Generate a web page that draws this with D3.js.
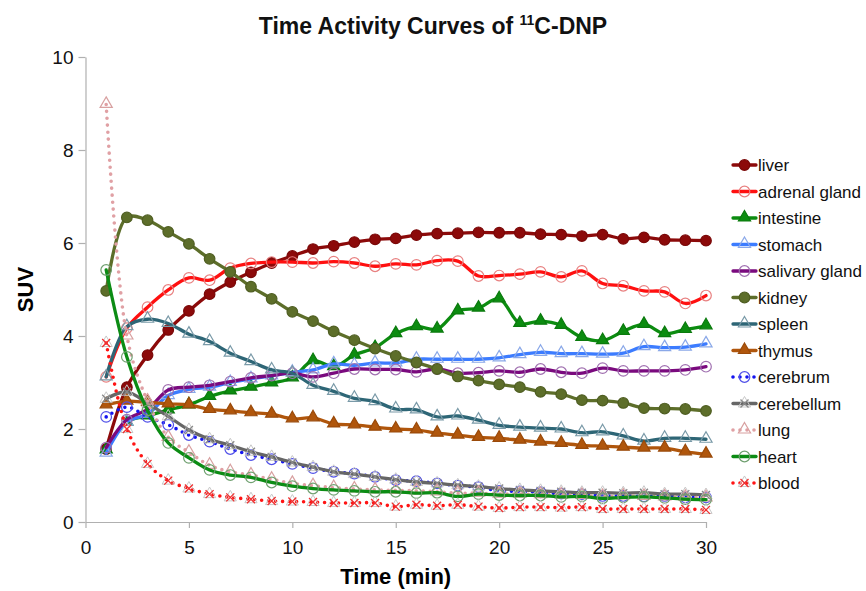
<!DOCTYPE html>
<html>
<head>
<meta charset="utf-8">
<script src="https://cdn.jsdelivr.net/npm/d3@7"></script>
<style>
  body { margin: 0; background: #fff; }
  text { font-family: "Liberation Sans", Arial, sans-serif; }
</style>
</head>
<body>
<svg id="chart" width="866" height="591"></svg>
<script>
// Time activity curves (SUV per minute)

const minutes = d3.range(1, 31);
const xTicks = [0, 5, 10, 15, 20, 25, 30];
const yTicks = [0, 2, 4, 6, 8, 10];

const organs = ["liver", "adrenal gland", "intestine", "stomach", "salivary gland", "kidney",
                "spleen", "thymus", "cerebrum", "cerebellum", "lung", "heart", "blood"];

const liver = [1.57, 2.9, 3.59, 4.13, 4.54, 4.9, 5.16, 5.37, 5.57, 5.72, 5.87, 5.94, 6.02, 6.08, 6.1,
               6.17, 6.2, 6.21, 6.23, 6.22, 6.22, 6.19, 6.18, 6.15, 6.18, 6.09, 6.12, 6.07, 6.06, 6.05];
const adrenal = [3.12, 4.17, 4.62, 4.99, 5.25, 5.2, 5.46, 5.56, 5.59, 5.59, 5.57, 5.6, 5.57, 5.5, 5.55,
                 5.53, 5.62, 5.61, 5.29, 5.3, 5.33, 5.38, 5.27, 5.4, 5.13, 5.08, 4.97, 4.95, 4.7, 4.87];
const intestine = [1.55, 2.15, 2.28, 2.41, 2.52, 2.7, 2.82, 2.9, 2.99, 3.1, 3.47, 3.34, 3.59, 3.75, 4.05,
                   4.2, 4.15, 4.54, 4.6, 4.8, 4.27, 4.32, 4.23, 3.97, 3.9, 4.1, 4.25, 4.05, 4.14, 4.22];
const stomach = [1.48, 2.15, 2.32, 2.72, 2.85, 2.9, 3.0, 3.08, 3.14, 3.22, 3.27, 3.4, 3.37, 3.42, 3.42,
                 3.5, 3.5, 3.5, 3.5, 3.53, 3.6, 3.65, 3.62, 3.62, 3.61, 3.63, 3.77, 3.75, 3.76, 3.83];
const salivary = [1.6, 2.2, 2.42, 2.84, 2.9, 2.94, 3.02, 3.1, 3.15, 3.2, 3.12, 3.2, 3.29, 3.28, 3.28,
                  3.23, 3.29, 3.2, 3.21, 3.25, 3.22, 3.29, 3.22, 3.2, 3.31, 3.25, 3.25, 3.25, 3.27, 3.34];
const kidney = [4.97, 6.55, 6.49, 6.24, 5.98, 5.66, 5.38, 5.06, 4.8, 4.52, 4.32, 4.1, 3.91, 3.73, 3.57,
                3.43, 3.29, 3.13, 3.04, 2.96, 2.9, 2.8, 2.75, 2.62, 2.61, 2.56, 2.45, 2.44, 2.43, 2.39];
const spleen = [3.12, 4.2, 4.36, 4.27, 4.04, 3.88, 3.63, 3.45, 3.27, 3.2, 2.94, 2.81, 2.66, 2.59, 2.43,
                2.41, 2.26, 2.28, 2.19, 2.08, 2.04, 2.02, 2.0, 1.92, 1.94, 1.85, 1.74, 1.8, 1.8, 1.78];
const thymus = [2.52, 2.6, 2.57, 2.54, 2.52, 2.42, 2.39, 2.35, 2.32, 2.22, 2.24, 2.11, 2.09, 2.04, 2.0,
                1.98, 1.91, 1.87, 1.82, 1.8, 1.76, 1.72, 1.69, 1.65, 1.63, 1.61, 1.59, 1.59, 1.51, 1.46];
const cerebrum = [2.26, 2.47, 2.26, 2.09, 1.87, 1.73, 1.57, 1.44, 1.35, 1.25, 1.16, 1.08, 1.04, 0.97, 0.9,
                  0.88, 0.83, 0.78, 0.75, 0.67, 0.66, 0.64, 0.61, 0.6, 0.56, 0.56, 0.55, 0.56, 0.53, 0.53];
const cerebellum = [2.65, 2.8, 2.55, 2.27, 1.98, 1.78, 1.65, 1.51, 1.4, 1.28, 1.18, 1.08, 1.03, 0.97, 0.91,
                    0.86, 0.83, 0.79, 0.76, 0.72, 0.69, 0.67, 0.65, 0.63, 0.63, 0.62, 0.63, 0.6, 0.6, 0.58];
const lung = [8.98, 4.0, 2.6, 1.82, 1.5, 1.22, 1.08, 1.01, 0.92, 0.83, 0.78, 0.74, 0.71, 0.69, 0.68,
              0.67, 0.65, 0.62, 0.62, 0.6, 0.6, 0.59, 0.58, 0.57, 0.55, 0.56, 0.55, 0.54, 0.53, 0.52];
const heart = [5.42, 3.55, 2.4, 1.7, 1.38, 1.12, 1.01, 0.96, 0.85, 0.77, 0.72, 0.69, 0.67, 0.65, 0.65,
               0.62, 0.63, 0.55, 0.6, 0.58, 0.57, 0.57, 0.54, 0.55, 0.51, 0.53, 0.54, 0.52, 0.49, 0.48];
const blood = [3.85, 2.0, 1.25, 0.89, 0.72, 0.6, 0.53, 0.49, 0.45, 0.44, 0.43, 0.41, 0.41, 0.41, 0.33,
               0.37, 0.35, 0.37, 0.33, 0.3, 0.32, 0.32, 0.31, 0.32, 0.28, 0.28, 0.28, 0.28, 0.28, 0.26];

const seriesValues = [liver, adrenal, intestine, stomach, salivary, kidney, spleen,
                      thymus, cerebrum, cerebellum, lung, heart, blood];

// look of each series: line colour, marker, marker fill, marker stroke, dotted or not
const styles = [
  {color: "#8c0a0a", marker: "circle", fill: "#8c0a0a", stroke: "#7a0808", dotted: false},
  {color: "#ff1010", marker: "circle", fill: "none", stroke: "#e88080", dotted: false},
  {color: "#0c8c10", marker: "triangle", fill: "#0c8c10", stroke: "#0a7a0d", dotted: false},
  {color: "#3c7cff", marker: "triangle", fill: "none", stroke: "#8aa8e8", dotted: false},
  {color: "#7a0a7e", marker: "circle", fill: "none", stroke: "#a070b0", dotted: false},
  {color: "#5d6e2a", marker: "circle", fill: "#5d6e2a", stroke: "#4f5e22", dotted: false},
  {color: "#2e6676", marker: "triangle", fill: "none", stroke: "#7a9aa8", dotted: false},
  {color: "#b0560c", marker: "triangle", fill: "#b0560c", stroke: "#9a4a0a", dotted: false},
  {color: "#1414f0", marker: "circle", fill: "none", stroke: "#5050e8", dotted: true},
  {color: "#666666", marker: "cross", fill: "none", stroke: "#8a8a8a", dotted: false},
  {color: "#e0a0a4", marker: "triangle", fill: "none", stroke: "#d8a0a0", dotted: true},
  {color: "#0c8c14", marker: "circle", fill: "none", stroke: "#70a070", dotted: false},
  {color: "#ff1414", marker: "cross", fill: "none", stroke: "#ee3030", dotted: true}
];

const svg = d3.select("#chart");

const x = d3.scaleLinear().domain([0, 30]).range([85.5, 706]);
const y = d3.scaleLinear().domain([0, 10]).range([522, 57]);

// Title with superscript
const title = svg.append("text")
    .attr("x", 433).attr("y", 34)
    .attr("text-anchor", "middle")
    .attr("font-size", 23).attr("font-weight", "bold")
    .attr("fill", "#111");
title.append("tspan").text("Time Activity Curves of ");
title.append("tspan").attr("font-size", 14).attr("dy", -9).text("11");
title.append("tspan").attr("dy", 9).text("C-DNP");

// Axes
const xAxis = svg.append("g")
    .attr("transform", "translate(0," + y(0) + ")")
    .call(d3.axisBottom(x).tickValues(xTicks).tickSize(6).tickSizeOuter(0));
const yAxis = svg.append("g")
    .attr("transform", "translate(" + x(0) + ",0)")
    .call(d3.axisLeft(y).tickValues(yTicks).tickSize(7).tickSizeOuter(0));

[xAxis, yAxis].forEach(function(a) {
    a.select(".domain").attr("stroke", "#b0b0b0").attr("stroke-width", 1.2);
    a.selectAll(".tick line").attr("stroke", "#b0b0b0").attr("stroke-width", 1.2);
    a.selectAll(".tick text")
        .attr("font-family", "Liberation Sans, Arial, sans-serif")
        .attr("font-size", 19).attr("fill", "#111");
});
xAxis.selectAll(".tick text").attr("dy", "1.2em");
yAxis.selectAll(".tick text").attr("x", -12);

svg.append("text")
    .attr("x", x(15)).attr("y", 584)
    .attr("text-anchor", "middle")
    .attr("font-size", 22).attr("font-weight", "bold")
    .text("Time (min)");

svg.append("text")
    .attr("transform", "translate(33," + y(5) + ") rotate(-90)")
    .attr("text-anchor", "middle")
    .attr("font-size", 22).attr("font-weight", "bold")
    .text("SUV");

// Marker drawing helper
const triSymbol = d3.symbol().type(d3.symbolTriangle).size(64);
function drawMarker(sel, st) {
    if (st.marker === "circle") {
        sel.append("circle").attr("r", 5.3)
            .attr("fill", st.fill === "none" ? "rgba(255,255,255,0)" : st.fill)
            .attr("stroke", st.stroke).attr("stroke-width", 1.2);
    } else if (st.marker === "triangle") {
        sel.append("path").attr("d", triSymbol).attr("transform", "translate(0,-0.5)")
            .attr("fill", st.fill === "none" ? "rgba(255,255,255,0)" : st.fill)
            .attr("stroke", st.stroke).attr("stroke-width", 1.2);
    } else {
        // faint triangle behind the cross, as in the picture
        sel.append("path").attr("d", triSymbol)
            .attr("fill", "none").attr("stroke", "#c8c8c8").attr("stroke-width", 1);
        sel.append("path").attr("d", "M-4,-4L4,4M-4,4L4,-4")
            .attr("stroke", st.stroke).attr("stroke-width", 1.3).attr("fill", "none");
    }
}

const line = d3.line()
    .x(function(d) { return x(d.t); })
    .y(function(d) { return y(d.v); })
    .curve(d3.curveCatmullRom.alpha(0.5));

const plot = svg.append("g");

seriesValues.forEach(function(vals, i) {
    const st = styles[i];
    const pts = vals.map(function(v, j) { return {t: minutes[j], v: v}; });
    const g = plot.append("g");

    g.append("path")
        .datum(pts)
        .attr("d", line)
        .attr("fill", "none")
        .attr("stroke", st.color)
        .attr("stroke-width", st.dotted ? 3.6 : 3.3)
        .attr("stroke-linecap", "round")
        .attr("stroke-linejoin", "round")
        .attr("stroke-dasharray", st.dotted ? "0,7" : null);

    g.selectAll(".pt")
        .data(pts)
        .enter().append("g")
        .attr("class", "pt")
        .attr("transform", function(d) { return "translate(" + x(d.t) + "," + y(d.v) + ")"; })
        .each(function() { drawMarker(d3.select(this), st); });
});

// Legend
const legend = svg.append("g").attr("transform", "translate(733,165)");
organs.forEach(function(name, i) {
    const st = styles[i];
    const row = legend.append("g").attr("transform", "translate(0," + (i * 26.5) + ")");
    row.append("line")
        .attr("x1", 0).attr("x2", 23)
        .attr("stroke", st.color)
        .attr("stroke-width", st.dotted ? 3.6 : 3.3)
        .attr("stroke-linecap", "round")
        .attr("stroke-dasharray", st.dotted ? "0,7" : null);
    const m = row.append("g").attr("transform", "translate(11.5,0)");
    drawMarker(m, st);
    row.append("text")
        .attr("x", 25).attr("y", 6)
        .attr("font-size", 17).attr("fill", "#111")
        .text(name);
});
</script>
</body>
</html>
